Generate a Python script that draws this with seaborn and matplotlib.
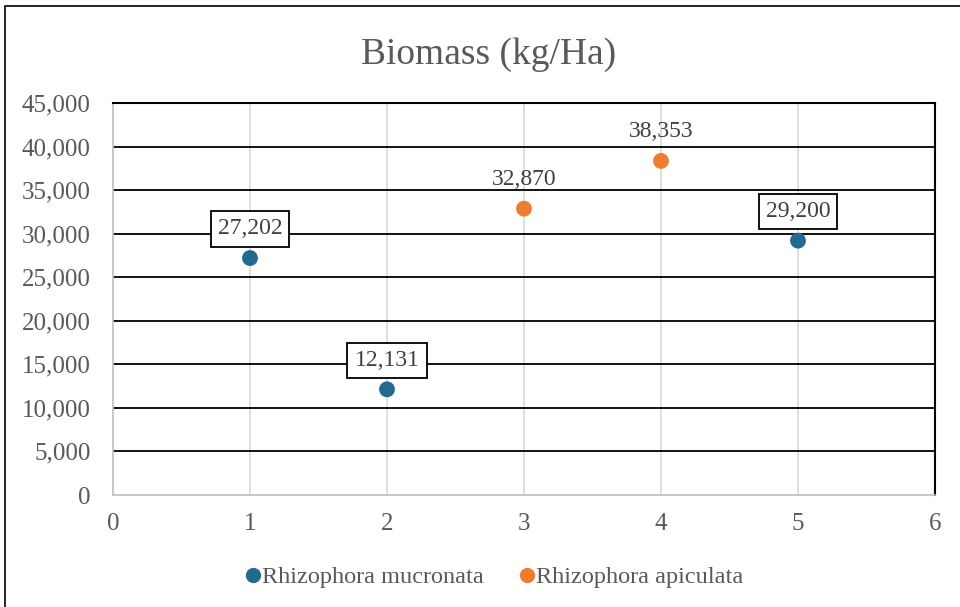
import pandas as pd
import matplotlib.pyplot as plt
import seaborn as sns
from matplotlib.patches import Rectangle

# data
sites = [1, 2, 5, 3, 4]
biomass = [27202, 12131, 29200, 32870, 38353]
species = ["Rhizophora mucronata"] * 3 + ["Rhizophora apiculata"] * 2
colors = {"Rhizophora mucronata": "#236B8E", "Rhizophora apiculata": "#ED7D31"}

df = pd.DataFrame({"site": sites, "biomass": biomass, "species": species})

sns.set_theme(style="white")
plt.rcParams['font.family'] = ['Liberation Serif', 'DejaVu Serif']
text_col = "#595959"

fig = plt.figure(figsize=(9.6, 6.07), dpi=100)
ax = fig.add_axes([113 / 960, 1 - 495 / 607, (935 - 113) / 960, (495 - 103) / 607])

# outer frame of the chart (runs off the right and bottom edge)
fig.patches.append(Rectangle((5 / 960, -0.05), 1.0, 1.05 - 6 / 607, transform=fig.transFigure,
                             fill=False, edgecolor="black", linewidth=1.2))

sns.scatterplot(data=df, x="site", y="biomass", hue="species", palette=colors,
                s=130, edgecolor="none", ax=ax, zorder=5, legend=False)

ax.set_xlim(0, 6)
ax.set_ylim(0, 45000)
ax.set_xticks(range(0, 7))
ax.set_yticks(range(0, 45001, 5000))
ax.set_yticklabels([f"{v:,}" for v in range(0, 45001, 5000)])
ax.tick_params(axis="both", labelsize=18, colors=text_col, length=0)
ax.tick_params(axis="x", pad=13)
ax.tick_params(axis="y", pad=16)
ax.set_xlabel("")
ax.set_ylabel("")

# grid: black horizontal, light grey vertical
for v in range(5000, 45001, 5000):
    ax.axhline(v, color="black", linewidth=1.3, zorder=1)
for v in range(1, 6):
    ax.axvline(v, color="#D9D9D9", linewidth=1.2, zorder=0)

for side in ["top", "right"]:
    ax.spines[side].set_color("black")
    ax.spines[side].set_linewidth(1.5)
for side in ["left", "bottom"]:
    ax.spines[side].set_color("#BFBFBF")
    ax.spines[side].set_linewidth(1.2)

# data labels
for x, y, sp in zip(sites, biomass, species):
    box = dict(boxstyle="square,pad=0.3", fc="white", ec="black", lw=1.3) if sp == "Rhizophora mucronata" else None
    ax.annotate(f"{y:,}", (x, y), xytext=(0, 17), textcoords="offset points",
                ha="center", va="baseline", fontsize=17, color="#404040", bbox=box, zorder=6)

fig.text(489 / 960, 1 - 55 / 607, "Biomass (kg/Ha)", ha="center", va="center", fontsize=27, color=text_col)

# legend
handles = [plt.Line2D([], [], marker="o", linestyle="", markersize=10, color=colors[k]) for k in colors]
fig.legend(handles, list(colors), loc="center", bbox_to_anchor=(486 / 960, 1 - 577 / 607), ncol=2,
           frameon=False, fontsize=17.5, handletextpad=-0.6, columnspacing=0.75, labelcolor=text_col)

fig.savefig("out.png", dpi=100)
